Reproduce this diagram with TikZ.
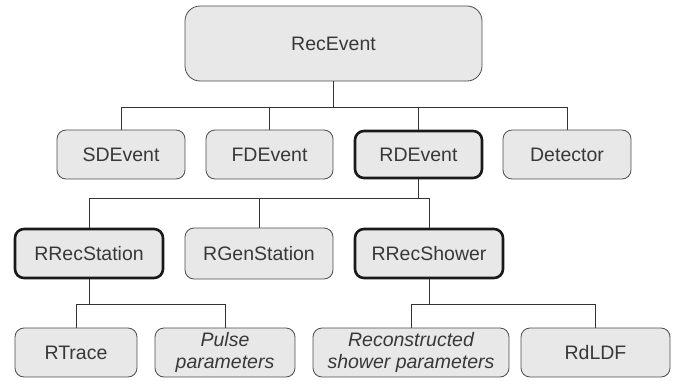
\documentclass[tikz,border=0pt]{standalone}
\usepackage{fontspec}
\setmainfont{Liberation Sans}
\begin{document}
\begin{tikzpicture}[x=1pt,y=-1pt,
  box/.style={draw=black!70, line width=0.8pt, fill=black!9, rounded corners=9pt,
    text=black!78, font=\fontsize{19.5}{22}\selectfont, align=center, inner sep=0pt},
  keybox/.style={box, draw=black!90, line width=2.6pt},
  conn/.style={draw=black!80, line width=0.9pt}]
\useasboundingbox (0,0) rectangle (677,380);
% level 0
\node[box, rounded corners=15pt, minimum width=297pt, minimum height=75pt] (rec) at (333.5,43.5) {RecEvent};
% level 1
\node[box, minimum width=128pt, minimum height=49pt] (sd) at (121,154.5) {SDEvent};
\node[box, minimum width=127pt, minimum height=49pt] (fd) at (269.5,154.5) {FDEvent};
\node[keybox, minimum width=127pt, minimum height=47pt] (rd) at (418.5,154.5) {RDEvent};
\node[box, minimum width=128pt, minimum height=49pt] (det) at (567,154.5) {Detector};
% level 2
\node[keybox, minimum width=148pt, minimum height=49pt] (rrs) at (89,253.5) {RRecStation};
\node[box, minimum width=148pt, minimum height=51pt] (rgs) at (259,253.5) {RGenStation};
\node[keybox, minimum width=148pt, minimum height=49pt] (rsh) at (429,253.5) {RRecShower};
% level 3
\node[box, minimum width=122pt, minimum height=49pt] (rt) at (76,352.5) {RTrace};
\node[box, minimum width=140pt, minimum height=49pt] (pp) at (225,352.5) {\itshape Pulse\\\itshape parameters};
\node[box, minimum width=196pt, minimum height=49pt] (rsp) at (411,352.5) {\itshape Reconstructed\\\itshape shower parameters};
\node[box, minimum width=149pt, minimum height=49pt] (ldf) at (595.5,352.5) {RdLDF};
% bus levels
\coordinate (b1) at (0,107);
\coordinate (b2) at (0,198);
\coordinate (b3) at (0,304);
% connectors
\draw[conn] (rec.south) -- (rec.south |- b1);
\draw[conn] (sd.north) -- (sd.north |- b1) -- (det.north |- b1) -- (det.north);
\draw[conn] (fd.north) -- (fd.north |- b1);
\draw[conn] (rd.north) -- (rd.north |- b1);
\draw[conn] (rd.south) -- (rd.south |- b2);
\draw[conn] (rrs.north) -- (rrs.north |- b2) -- (rsh.north |- b2) -- (rsh.north);
\draw[conn] (rgs.north) -- (rgs.north |- b2);
\draw[conn] (rrs.south) -- (rrs.south |- b3);
\draw[conn] (rt.north) -- (rt.north |- b3) -- (pp.north |- b3) -- (pp.north);
\draw[conn] (rsh.south) -- (rsh.south |- b3);
\draw[conn] (rsp.north) -- (rsp.north |- b3) -- (ldf.north |- b3) -- (ldf.north);
\end{tikzpicture}
\end{document}
